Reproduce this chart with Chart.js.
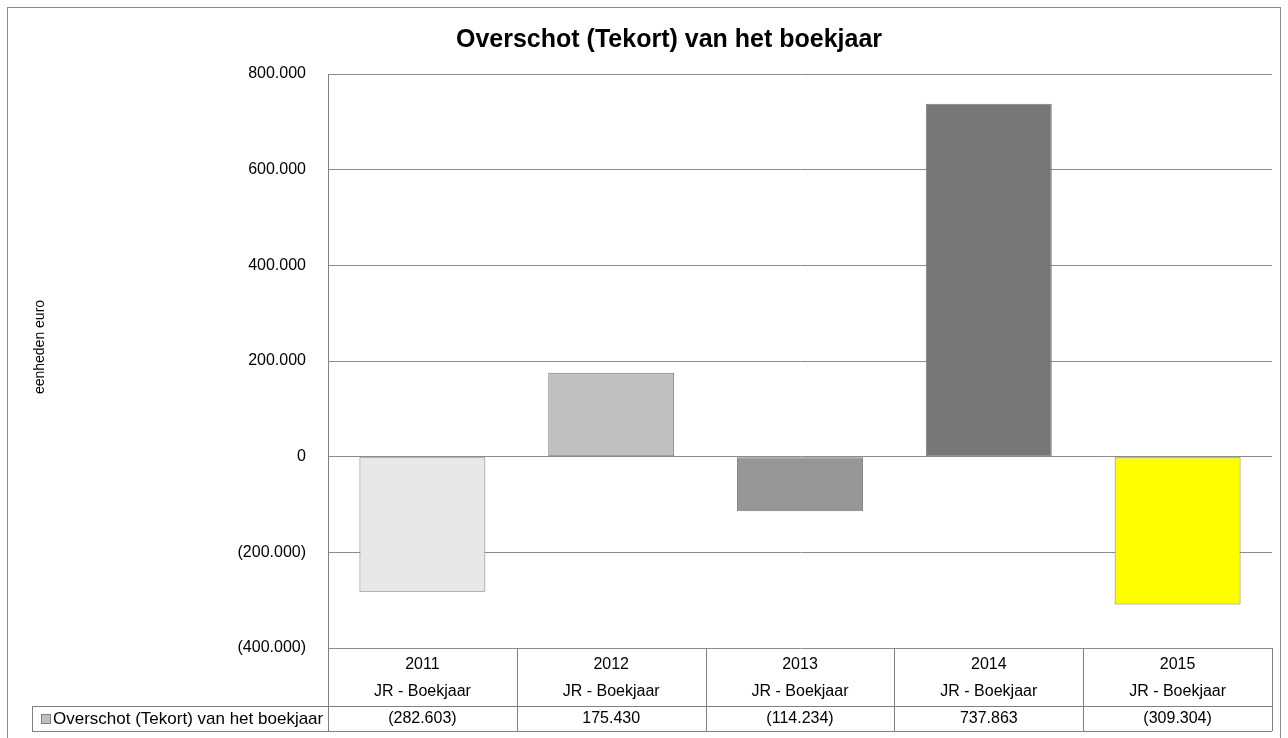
<!DOCTYPE html>
<html>
<head>
<meta charset="utf-8">
<script src="https://cdn.jsdelivr.net/npm/chart.js@4.4.0/dist/chart.umd.min.js"></script>
<style>
    body { margin: 0; background: #fff; }
    canvas { display: block; }
</style>
</head>
<body>
<canvas id="chart" width="1288" height="738"></canvas>
<script>
const years = ['2011', '2012', '2013', '2014', '2015'];
const subLabels = ['JR - Boekjaar', 'JR - Boekjaar', 'JR - Boekjaar', 'JR - Boekjaar', 'JR - Boekjaar'];
const seriesName = 'Overschot (Tekort) van het boekjaar';
const values = [-282603, 175430, -114234, 737863, -309304];
const barColors = ['#e8e8e8', '#c0c0c0', '#969696', '#777777', '#ffff00'];
const yMin = -400000;
const yMax = 800000;
const yStep = 200000;

const chartTitle = 'Overschot (Tekort) van het boekjaar';
const yTitle = 'eenheden euro';
const FONT = '"Liberation Sans", Arial, sans-serif';

// Dutch style numbers, negatives in brackets
function fmt(v) {
    if (v === 0) return '0';
    const s = Math.abs(v).toString().replace(/\B(?=(\d{3})+(?!\d))/g, '.');
    return v < 0 ? '(' + s + ')' : s;
}

// Title, axis title, outer frame and the data table underneath
const tablePlugin = {
    id: 'dataTable',
    afterDraw(chart) {
        const ctx = chart.ctx;
        const ca = chart.chartArea;
        const xs = chart.scales.x;
        const colW = (ca.right - ca.left) / years.length;
        const row2Top = ca.bottom + 58;
        const row2Bot = row2Top + 25;
        const legendLeft = 32;

        ctx.save();

        // outer frame
        ctx.strokeStyle = '#8c8c8c';
        ctx.lineWidth = 1;
        ctx.strokeRect(7.5, 7.5, 1273, 760);

        // title
        ctx.fillStyle = '#000';
        ctx.font = 'bold 25px ' + FONT;
        ctx.textAlign = 'center';
        ctx.textBaseline = 'middle';
        ctx.fillText(chartTitle, 669, 40);

        // y axis title
        ctx.save();
        ctx.translate(40, 347);
        ctx.rotate(-Math.PI / 2);
        ctx.font = '14px ' + FONT;
        ctx.fillText(yTitle, 0, 0);
        ctx.restore();

        // table lines
        ctx.strokeStyle = '#808080';
        ctx.beginPath();
        for (let i = 0; i <= years.length; i++) {
            const x = Math.round(ca.left + i * colW) + 0.5;
            ctx.moveTo(x, ca.bottom);
            ctx.lineTo(x, row2Bot);
        }
        ctx.moveTo(legendLeft + 0.5, row2Top);
        ctx.lineTo(legendLeft + 0.5, row2Bot);
        ctx.moveTo(legendLeft, row2Top + 0.5);
        ctx.lineTo(ca.right, row2Top + 0.5);
        ctx.moveTo(legendLeft, row2Bot + 0.5);
        ctx.lineTo(ca.right, row2Bot + 0.5);
        ctx.stroke();

        // table texts
        ctx.font = '16px ' + FONT;
        ctx.fillStyle = '#000';
        years.forEach((yr, i) => {
            const cx = xs.getPixelForValue(i);
            ctx.fillText(yr, cx, ca.bottom + 17);
            ctx.fillText(subLabels[i], cx, ca.bottom + 44);
            ctx.fillText(fmt(values[i]), cx, row2Top + 13);
        });

        // legend key
        ctx.fillStyle = '#c0c0c0';
        ctx.fillRect(41, row2Top + 8, 10, 10);
        ctx.strokeRect(41.5, row2Top + 8.5, 9, 9);
        ctx.fillStyle = '#000';
        ctx.textAlign = 'left';
        ctx.font = '17px ' + FONT;
        ctx.fillText(seriesName, 53, row2Top + 13);

        ctx.restore();
    }
};

new Chart(document.getElementById('chart').getContext('2d'), {
    type: 'bar',
    data: {
        labels: years,
        datasets: [{
            label: seriesName,
            data: values,
            backgroundColor: barColors,
            borderColor: '#7a7a7a',
            borderWidth: 1,
            borderSkipped: false,
            categoryPercentage: 1,
            barPercentage: 0.667
        }]
    },
    options: {
        responsive: false,
        animation: false,
        layout: { padding: { top: 74, right: 16, bottom: 90, left: 0 } },
        scales: {
            x: { display: false },
            y: {
                min: yMin,
                max: yMax,
                ticks: {
                    stepSize: yStep,
                    padding: 22,
                    color: '#000',
                    font: { family: FONT, size: 16 },
                    callback: v => fmt(v)
                },
                grid: { color: '#8c8c8c', drawTicks: false },
                border: { display: true, color: '#808080' },
                afterFit(scale) { scale.width = 328; }
            }
        },
        plugins: {
            legend: { display: false },
            tooltip: { enabled: false },
            title: { display: false }
        }
    },
    plugins: [tablePlugin]
});
</script>
</body>
</html>
